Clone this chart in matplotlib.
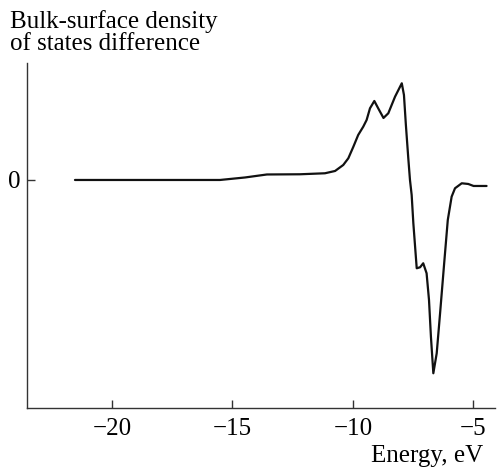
import matplotlib
matplotlib.use("Agg")
import matplotlib.pyplot as plt
from matplotlib import rcParams

rcParams.update({
    "font.family": ["Liberation Serif", "DejaVu Serif"],
    "font.size": 18,
    "axes.unicode_minus": True,
})

# energy (eV) and bulk-surface DOS difference (arb. units)
energy = [-21.54, -15.52, -14.48, -13.57, -12.20, -11.16, -10.74, -10.40,
          -10.19, -9.98, -9.78, -9.57, -9.43, -9.29, -9.11, -8.95, -8.73,
          -8.53, -8.25, -7.97, -7.88, -7.80, -7.70, -7.63, -7.56, -7.49,
          -7.35, -7.21, -7.08, -6.94, -6.84, -6.76, -6.66, -6.52, -6.38,
          -6.21, -6.06, -5.90, -5.76, -5.48, -5.21, -4.99, -4.45]
dos_diff = [0.0, 0.0, 0.25, 0.55, 0.57, 0.67, 0.9, 1.5,
            2.17, 3.33, 4.5, 5.33, 6.0, 7.17, 7.9, 7.17, 6.2,
            6.67, 8.33, 9.67, 8.5, 5.5, 2.17, 0.0, -1.5, -4.33,
            -8.83, -8.73, -8.33, -9.33, -12.0, -15.67, -19.33, -17.33, -13.33,
            -8.33, -4.0, -1.67, -0.83, -0.33, -0.4, -0.6, -0.6]

xticks = [-20, -15, -10, -5]
xticklabels = ["\u221220", "\u221215", "\u221210", "\u22125"]

fig = plt.figure(figsize=(5.01, 4.70), dpi=100)
ax = fig.add_axes([0.054, 0.132, 0.934, 0.734])

ax.plot(energy, dos_diff, color="#111111", lw=1.6,
        solid_joinstyle="round", solid_capstyle="round")

ax.set_xlim(-23.53, -4.10)
ax.set_ylim(-22.8, 11.7)
ax.set_xticks(xticks)
ax.set_xticklabels(xticklabels)
ax.set_yticks([0])
ax.set_yticklabels(["0"])
ax.tick_params(direction="in", length=6, width=1, colors="#333333",
               labelcolor="black", pad=7)
ax.tick_params(axis="y", pad=5)

for s in ("top", "right"):
    ax.spines[s].set_visible(False)
for s in ("left", "bottom"):
    ax.spines[s].set_color("#333333")
    ax.spines[s].set_linewidth(1.0)

fig.text(0.02, 0.978, "Bulk-surface density\nof states difference",
         ha="left", va="top", fontsize=18, linespacing=1.0)
fig.text(0.964, 0.017, "Energy, eV", ha="right", va="baseline", fontsize=18)

fig.savefig("out.png", dpi=100)
